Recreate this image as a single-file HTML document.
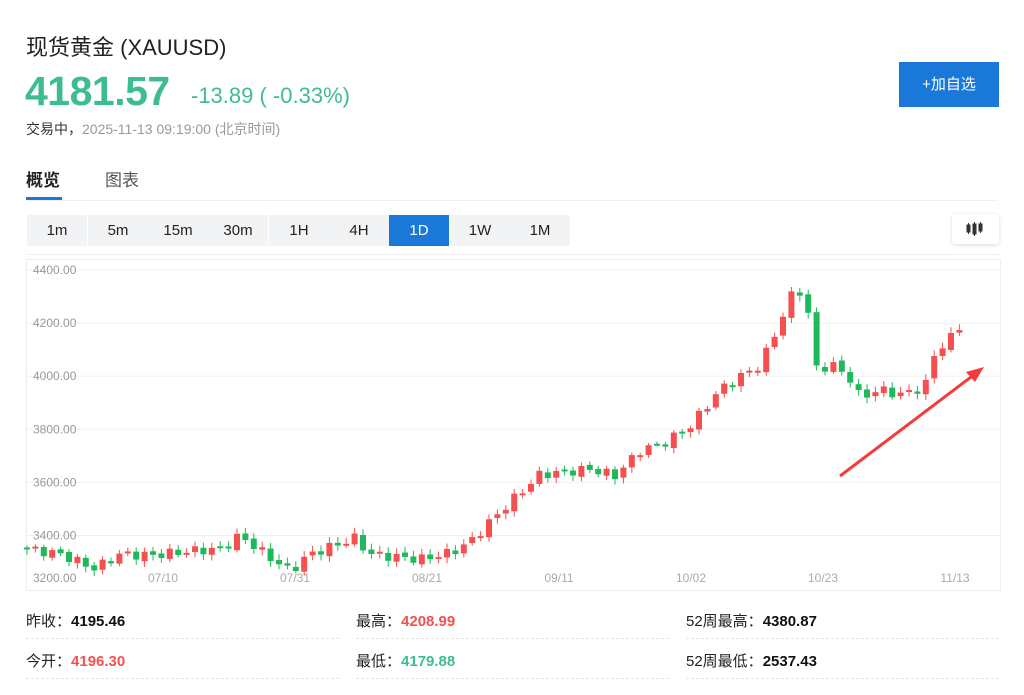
<!DOCTYPE html>
<html><head><meta charset="utf-8">
<style>
*{margin:0;padding:0;box-sizing:border-box}
body{width:1024px;height:695px;background:#fff;font-family:"Liberation Sans","Noto Sans CJK SC",sans-serif;position:relative;overflow:hidden;color:#222}
.a{position:absolute;white-space:nowrap}
.btn{position:absolute;top:215px;height:31px;width:60px;background:#f2f3f5;font-size:15px;line-height:31px;text-align:center;color:#222}
.lbl{font-size:15px;color:#222}
.dash{position:absolute;height:0;border-top:1px dashed #e6e6e6}
</style></head><body>
<div class="a" style="left:26px;top:30px;font-size:22px;color:#222">现货黄金&nbsp;(XAUUSD)</div>
<div class="a" style="left:25px;top:68px;font-size:41px;font-weight:bold;color:#3dbd8f;letter-spacing:-0.5px">4181.57</div>
<div class="a" style="left:191px;top:83px;font-size:22px;color:#3dbd8f">-13.89 ( -0.33%)</div>
<div class="a" style="left:26px;top:119px;font-size:14px;color:#333">交易中，<span style="color:#999">2025-11-13 09:19:00 (北京时间)</span></div>
<div class="a" style="left:899px;top:62px;width:100px;height:45px;background:#1a78d9;color:#fff;font-size:15px;line-height:45px;text-align:center">+加自选</div>
<div class="a" style="left:26px;top:166px;font-size:17px;font-weight:bold;color:#222">概览</div>
<div class="a" style="left:105px;top:166px;font-size:17px;color:#555">图表</div>
<div class="a" style="left:26px;top:197px;width:36px;height:3px;background:#1a78d9"></div>
<div class="a" style="left:26px;top:200px;width:972px;height:1px;background:#f0f0f0"></div>
<div class="btn" style="left:27px">1m</div>
<div class="btn" style="left:88px">5m</div>
<div class="btn" style="left:148px">15m</div>
<div class="btn" style="left:208px">30m</div>
<div class="btn" style="left:269px">1H</div>
<div class="btn" style="left:329px">4H</div>
<div class="btn" style="left:389px;background:#1a78d9;color:#fff">1D</div>
<div class="btn" style="left:450px">1W</div>
<div class="btn" style="left:510px">1M</div>
<div class="a" style="left:952px;top:214px;width:47px;height:30px;background:#fff;box-shadow:0 1px 4px rgba(0,0,0,.15);border-radius:3px">
<svg width="47" height="30"><g fill="#333" stroke="#333"><rect x="15" y="11" width="3" height="7"/><line x1="16.5" y1="9" x2="16.5" y2="20"/><rect x="21" y="10" width="3" height="10"/><line x1="22.5" y1="8" x2="22.5" y2="22"/><rect x="27" y="10" width="3" height="7"/><line x1="28.5" y1="8" x2="28.5" y2="19"/></g></svg></div>
<div class="a" style="left:26px;top:254px;width:974px;height:1px;background:#f0f0f0"></div>
<svg id="ch" class="a" style="left:0;top:0" width="1024" height="695"></svg>
<div class="a lbl" style="left:26px;top:610px">昨收：<b style="color:#111">4195.46</b></div>
<div class="a lbl" style="left:26px;top:650px">今开：<b style="color:#f5504f">4196.30</b></div>
<div class="a lbl" style="left:356px;top:610px">最高：<b style="color:#f5504f">4208.99</b></div>
<div class="a lbl" style="left:356px;top:650px">最低：<b style="color:#3dbd8f">4179.88</b></div>
<div class="a lbl" style="left:686px;top:610px">52周最高：<b style="color:#111">4380.87</b></div>
<div class="a lbl" style="left:686px;top:650px">52周最低：<b style="color:#111">2537.43</b></div>
<div class="dash" style="left:26px;top:638px;width:313px"></div>
<div class="dash" style="left:356px;top:638px;width:313px"></div>
<div class="dash" style="left:686px;top:638px;width:313px"></div>
<div class="dash" style="left:26px;top:678px;width:313px"></div>
<div class="dash" style="left:356px;top:678px;width:313px"></div>
<div class="dash" style="left:686px;top:678px;width:313px"></div>
<script>
var s='';
function Y(p){return 270+(4400-p)*0.2655;}
s+='<rect x="26.5" y="259.5" width="974" height="331" fill="none" stroke="#eee"/>';
[4400,4200,4000,3800,3600,3400].forEach(function(p){var y=Y(p);s+='<line x1="27" x2="1000" y1="'+y+'" y2="'+y+'" stroke="#f0f0f0"/>';s+='<text x="33" y="'+(y+4)+'" font-size="12" fill="#999" font-family="Liberation Sans">'+p+'.00</text>';});
s+='<text x="33" y="582" font-size="12" fill="#999" font-family="Liberation Sans">3200.00</text>';
[['07/10',163],['07/31',295],['08/21',427],['09/11',559],['10/02',691],['10/23',823],['11/13',955]].forEach(function(t){s+='<text x="'+t[1]+'" y="582" text-anchor="middle" font-size="12" fill="#aaa" font-family="Liberation Sans">'+t[0]+'</text>';});
var k=[[27,3350],[60,3330],[95,3275],[120,3330],[150,3325],[200,3345],[222,3350],[240,3400],[265,3330],[290,3265],[310,3330],[340,3370],[355,3390],[370,3330],[420,3310],[450,3335],[470,3375],[500,3490],[520,3560],[540,3630],[590,3650],[615,3625],[640,3720],[665,3750],[690,3810],[720,3950],[745,4010],[760,4040],[780,4200],[790,4300],[805,4330],[815,4030],[835,4040],[850,3990],[860,3920],[880,3950],[900,3930],[925,3960],[935,4090],[950,4140],[962,4200]];
function tgt(x){for(var i=1;i<k.length;i++){if(x<=k[i][0]){var a=k[i-1],b=k[i];return a[1]+(b[1]-a[1])*(x-a[0])/(b[0]-a[0]);}}return k[k.length-1][1];}
var prev=3355;
for(var i=0;i<112;i++){var x=27+i*8.4;if(x>965)break;var c=tgt(x)+Math.sin(i*2.3)*18;var o=prev+Math.sin(i*1.7)*6;
var hi=Math.max(o,c)+8+Math.abs(Math.sin(i*3.1))*14,lo=Math.min(o,c)-8-Math.abs(Math.cos(i*2.7))*14;
var col=c>=o?'#f5504f':'#1fb85a';var y1=Y(Math.max(o,c)),y2=Y(Math.min(o,c));if(y2-y1<2)y2=y1+2;
s+='<line x1="'+x+'" x2="'+x+'" y1="'+Y(hi)+'" y2="'+Y(lo)+'" stroke="'+col+'" stroke-width="1"/>';
s+='<rect x="'+(x-3)+'" y="'+y1+'" width="6" height="'+(y2-y1)+'" fill="'+col+'"/>';prev=c;}
s+='<line x1="840" y1="476" x2="975" y2="374" stroke="#f23c3c" stroke-width="3"/><polygon points="984,367 966,372 975,382" fill="#f23c3c"/>';
document.getElementById('ch').innerHTML=s;
</script>
</body></html>
